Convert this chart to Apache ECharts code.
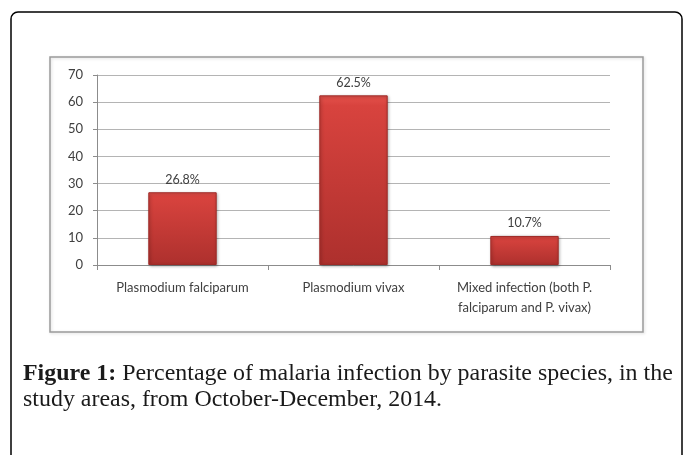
<!DOCTYPE html>
<html>
<head>
<meta charset="utf-8">
<script src="https://cdn.jsdelivr.net/npm/echarts@6/dist/echarts.min.js"></script>
<style>
html,body{margin:0;padding:0;background:#fff;}
#chart{width:683px;height:455px;}
</style>
</head>
<body>
<div id="chart"></div>
<script>
var categories = ['Plasmodium falciparum', 'Plasmodium vivax', 'Mixed infection (both P.\nfalciparum and P. vivax)'];
var values = [26.8, 62.5, 10.7];
var yTicks = [0, 10, 20, 30, 40, 50, 60, 70];
var captionBold = 'Figure 1:';
var captionLine1 = ' Percentage of malaria infection by parasite species, in the';
var captionLine2 = 'study areas, from October-December, 2014.';

var serif = '"Liberation Serif", "DejaVu Serif", serif';
var cv = document.createElement('canvas').getContext('2d');
cv.font = 'bold 20px ' + serif;
var wb = cv.measureText(captionBold).width;
cv.font = '20px ' + serif;
var wn = cv.measureText(captionLine1).width;
var capSize = Math.max(14, Math.min(24, 20 * 650 / (wb + wn)));

var chart = echarts.init(document.getElementById('chart'));
chart.setOption({
  backgroundColor: '#ffffff',
  animation: false,
  grid: { left: 97, right: 73, top: 75, bottom: 190 },
  xAxis: {
    type: 'category',
    data: categories,
    axisLine: { show: true, lineStyle: { color: '#8c8c8c', width: 1 } },
    axisTick: { show: true, alignWithLabel: false, length: 5, lineStyle: { color: '#8c8c8c' } },
    axisLabel: {
      interval: 0, margin: 13, color: '#404040', fontSize: 13, lineHeight: 20,
      fontFamily: 'Lato, "Open Sans", sans-serif', align: 'center'
    }
  },
  yAxis: {
    type: 'value',
    min: yTicks[0],
    max: yTicks[yTicks.length - 1],
    interval: 10,
    axisLine: { show: true, lineStyle: { color: '#8c8c8c', width: 1 } },
    axisTick: { show: true, length: 4, lineStyle: { color: '#8c8c8c' } },
    splitLine: { show: true, lineStyle: { color: '#b4b4b4', width: 1 } },
    axisLabel: { margin: 14, color: '#404040', fontSize: 13, fontFamily: 'Lato, "Open Sans", sans-serif' }
  },
  series: [{
    type: 'bar',
    data: values,
    barWidth: '40%',
    itemStyle: {
      color: new echarts.graphic.LinearGradient(0, 0, 0, 1, [
        { offset: 0, color: '#e5524c' },
        { offset: 0.06, color: '#d8433e' },
        { offset: 1, color: '#ad302d' }
      ]),
      borderColor: '#9e2a27',
      borderWidth: 1,
      shadowColor: 'rgba(0,0,0,0.35)',
      shadowBlur: 3,
      shadowOffsetX: 1,
      shadowOffsetY: 1
    },
    label: {
      show: true, position: 'top', distance: 6,
      formatter: function (p) { return p.value + '%'; },
      color: '#404040', fontSize: 12.5, fontFamily: 'Lato, "Open Sans", sans-serif'
    }
  }],
  graphic: [
    {
      type: 'rect', z: -1, silent: true,
      shape: { x: 11, y: 12, width: 671, height: 480, r: 7 },
      style: { fill: 'none', stroke: '#000000', lineWidth: 1.5 }
    },
    {
      type: 'rect', z: -1, silent: true,
      shape: { x: 50, y: 57, width: 593, height: 275 },
      style: { fill: 'none', stroke: '#9a9a9a', lineWidth: 1.5,
        shadowColor: 'rgba(0,0,0,0.15)', shadowBlur: 3, shadowOffsetX: 1, shadowOffsetY: 1 }
    },
    {
      type: 'text', silent: true,
      x: 23, y: 386,
      style: {
        text: '{b|' + captionBold + '}' + captionLine1,
        fill: '#1a1a1a',
        font: capSize.toFixed(2) + 'px ' + serif,
        verticalAlign: 'bottom',
        rich: { b: { fontWeight: 'bold', fontSize: capSize, fontFamily: serif, fill: '#1a1a1a', verticalAlign: 'bottom' } }
      }
    },
    {
      type: 'text', silent: true,
      x: 23, y: 412,
      style: {
        text: captionLine2,
        fill: '#1a1a1a',
        font: capSize.toFixed(2) + 'px ' + serif,
        verticalAlign: 'bottom'
      }
    }
  ]
});
</script>
</body>
</html>
